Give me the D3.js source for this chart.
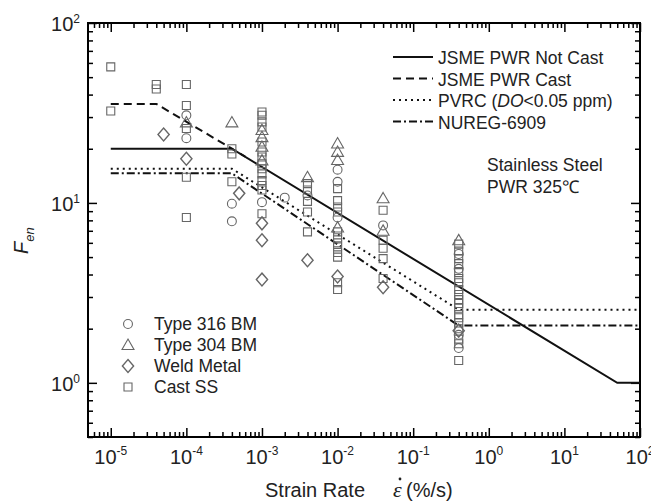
<!DOCTYPE html>
<html>
<head>
<meta charset="utf-8">
<script src="https://cdn.jsdelivr.net/npm/d3@7"></script>
<style>
  body { margin: 0; background: #fff; }
  svg { display: block; font-family: "Liberation Sans", Arial, sans-serif; }
</style>
</head>
<body>
<svg id="chart" width="651" height="502"></svg>
<script>
// Data: [strain rate (%/s), Fen]
var type316 = [[1e-4,30.7],[1e-4,22.9],[4e-4,9.9],[4e-4,7.9],[1e-3,10.1],[2e-3,10.7],
  [4e-3,11.0],[1e-2,15.3],[1e-2,13.1],[1e-2,8.3],[4e-2,7.5],[0.4,5.2],[0.4,4.3],
  [0.4,1.85],[0.4,1.56]];
var type304 = [[1e-4,28],[4e-4,28],[1e-3,25.4],[1e-3,23.2],[1e-3,20.5],[1e-3,17.2],
  [4e-3,13.9],[1e-2,21.4],[1e-2,19.2],[1e-2,17.3],[1e-2,7.3],[4e-2,10.6],[4e-2,7.0],
  [0.4,6.2]];
var weldMetal = [[5e-5,24],[1e-4,17.6],[5e-4,11.3],[1e-3,7.7],[1e-3,6.2],[1e-3,3.75],
  [4e-3,4.8],[1e-2,3.9],[4e-2,3.4],[0.4,1.95]];
var castSS = [[1e-5,57],[1e-5,32.4],[4e-5,45.5],[4e-5,43],[1e-4,45.5],[1e-4,34.8],
  [1e-4,25.9],[1e-4,13.9],[1e-4,8.3],[4e-4,20],[4e-4,18.7],[4e-4,13.1],
  [1e-3,32],[1e-3,30.7],[1e-3,28.2],[1e-3,26.4],[1e-3,21.8],[1e-3,19.2],[1e-3,18],
  [1e-3,16.5],[1e-3,15.5],[1e-3,14.5],[1e-3,13.3],[1e-3,12.5],[1e-3,11.8],[1e-3,8.7],
  [4e-3,12.8],[4e-3,11.8],[4e-3,10.2],[4e-3,8.9],[4e-3,6.9],
  [1e-2,12],[1e-2,10.3],[1e-2,9.5],[1e-2,8.9],[1e-2,6.9],[1e-2,6.4],[1e-2,6],
  [1e-2,5.7],[1e-2,5.3],[1e-2,5],[1e-2,3.6],[1e-2,3.3],
  [4e-2,9.1],[4e-2,6.2],[4e-2,5.6],[4e-2,4.9],[4e-2,3.8],
  [0.4,5.9],[0.4,5.4],[0.4,4.9],[0.4,4.6],[0.4,4.1],[0.4,3.8],[0.4,3.6],[0.4,3.3],
  [0.4,3.1],[0.4,2.9],[0.4,2.76],[0.4,2.6],[0.4,2.4],[0.4,2.3],[0.4,2.15],[0.4,2.0],
  [0.4,1.75],[0.4,1.65],[0.4,1.33]];

// Model curves (break points)
var jsmeNotCast = [[1e-5,20],[4e-4,20],[50,1],[100,1]];
var jsmeCast = [[1e-5,35.5],[4e-5,35.5],[6e-4,18.1]];
var pvrc = [[1e-5,15.5],[4e-4,15.5],[0.4,2.55],[100,2.55]];
var nureg = [[1e-5,14.6],[4e-4,14.6],[0.4,2.08],[100,2.08]];

var xDecades = [-5,-4,-3,-2,-1,0,1,2];
var yDecades = [0,1,2];

var lineNames = ["JSME PWR Not Cast","JSME PWR Cast","PVRC","NUREG-6909"];
var markerNames = ["Type 316 BM","Type 304 BM","Weld Metal","Cast SS"];

var svg = d3.select("#chart");
var plotL = 88, plotR = 640, plotT = 23, plotB = 437;

var x = d3.scaleLog().domain([5e-6,100]).range([plotL,plotR]);
var y = d3.scaleLog().domain([0.5,100]).range([plotB,plotT]);

// minor ticks
var xMinor = [], yMinor = [];
for (var e = -6; e <= 1; e++) for (var m = 2; m <= 9; m++) {
  var v = m*Math.pow(10,e);
  if (v >= 5e-6 && v <= 100) xMinor.push(v);
}
for (var e = -1; e <= 1; e++) for (var m = 2; m <= 9; m++) {
  var v = m*Math.pow(10,e);
  if (v >= 0.5 && v <= 100) yMinor.push(v);
}
var xMajor = xDecades.map(function(d){return Math.pow(10,d);});
var yMajor = yDecades.map(function(d){return Math.pow(10,d);});

function addAxis(gen, scale, vals, size, tx, ty) {
  var g = svg.append("g").attr("transform","translate("+tx+","+ty+")")
    .call(gen(scale).tickValues(vals).tickSize(-size).tickSizeOuter(0).tickFormat(""));
  g.select(".domain").remove();
  g.selectAll("line").attr("stroke","#000").attr("stroke-width",1.5);
}
[[xMajor,9],[xMinor,5]].forEach(function(t){
  addAxis(d3.axisBottom, x, t[0], t[1], 0, plotB);
  addAxis(d3.axisTop, x, t[0], t[1], 0, plotT);
});
[[yMajor,9],[yMinor,5]].forEach(function(t){
  addAxis(d3.axisLeft, y, t[0], t[1], plotL, 0);
  addAxis(d3.axisRight, y, t[0], t[1], plotR, 0);
});

svg.append("rect").attr("x",plotL).attr("y",plotT)
  .attr("width",plotR-plotL).attr("height",plotB-plotT)
  .attr("fill","none").attr("stroke","#000").attr("stroke-width",2);

// tick labels
xDecades.forEach(function(d){
  var t = svg.append("text").attr("x",x(Math.pow(10,d))).attr("y",464)
    .attr("text-anchor","middle").attr("font-size",20).attr("fill","#222");
  t.append("tspan").text("10");
  t.append("tspan").attr("dy",-9).attr("font-size",12).text(d);
});
yDecades.forEach(function(d){
  var t = svg.append("text").attr("x",80).attr("y",y(Math.pow(10,d))+8)
    .attr("text-anchor","end").attr("font-size",20).attr("fill","#222");
  t.append("tspan").text("10");
  t.append("tspan").attr("dy",-8).attr("font-size",12).text(d);
});

// axis titles
var yt = svg.append("text").attr("transform","translate(28,254) rotate(-90)")
  .attr("font-size",20).attr("font-style","italic").attr("fill","#222");
yt.append("tspan").text("F");
yt.append("tspan").attr("dy",6).attr("font-size",13).text("en");

svg.append("text").attr("x",265).attr("y",497).attr("font-size",20).attr("fill","#222")
  .text("Strain Rate");
var ex = 393;
svg.append("text").attr("x",ex).attr("y",497).attr("font-size",22)
  .attr("font-family","Liberation Serif, serif").attr("font-style","italic")
  .attr("fill","#222").text("\u03B5");
svg.append("circle").attr("cx",ex+7).attr("cy",479).attr("r",1.4).attr("fill","#222");
svg.append("text").attr("x",ex+13).attr("y",497).attr("font-size",20).attr("fill","#222")
  .text("(%/s)");

// curves
var line = d3.line().x(function(d){return x(d[0]);}).y(function(d){return y(d[1]);});
var styles = [
  {data: jsmeNotCast, dash: null},
  {data: jsmeCast, dash: "8,5"},
  {data: pvrc, dash: "2,4"},
  {data: nureg, dash: "8,3,2,3"}
];
styles.forEach(function(s){
  svg.append("path").attr("d",line(s.data)).attr("fill","none")
    .attr("stroke","#111").attr("stroke-width",2)
    .attr("stroke-dasharray",s.dash);
});

// markers
var symTypes = [d3.symbolCircle, d3.symbolTriangle, d3.symbolDiamond, d3.symbolSquare];
var symSizes = [62, 62, 48, 64];
var series = [type316, type304, weldMetal, castSS];
function drawMarker(g, i, cx, cy) {
  var p = g.append("path")
    .attr("d", d3.symbol().type(symTypes[i]).size(symSizes[i])())
    .attr("fill","none").attr("stroke","#666").attr("stroke-width",1.1);
  if (i == 2) p.attr("transform","translate("+cx+","+cy+") scale(1.5,1)");
  else if (i == 1) p.attr("transform","translate("+cx+","+(cy+1)+")");
  else p.attr("transform","translate("+cx+","+cy+")");
}
var mg = svg.append("g");
[3,0,1,2].forEach(function(i){
  series[i].forEach(function(d){ drawMarker(mg, i, x(d[0]), y(d[1])); });
});

// legend: markers
markerNames.forEach(function(n,i){
  var ry = 324 + i*21;
  drawMarker(svg, i, 128, ry);
  svg.append("text").attr("x",154).attr("y",ry+6).attr("font-size",17.5)
    .attr("fill","#222").text(n);
});

// legend: lines
lineNames.forEach(function(n,i){
  var ry = 57 + i*21.5;
  svg.append("line").attr("x1",393).attr("x2",433).attr("y1",ry).attr("y2",ry)
    .attr("stroke","#111").attr("stroke-width",2).attr("stroke-dasharray",styles[i].dash);
  var t = svg.append("text").attr("x",438).attr("y",ry+7).attr("font-size",17.5).attr("fill","#222");
  if (n == "PVRC") {
    t.append("tspan").text("PVRC (");
    t.append("tspan").attr("font-style","italic").text("DO");
    t.append("tspan").text("<0.05 ppm)");
  } else t.text(n);
});

svg.append("text").attr("x",487).attr("y",171).attr("font-size",17.5).attr("fill","#222")
  .text("Stainless Steel");
svg.append("text").attr("x",487).attr("y",193).attr("font-size",17.5).attr("fill","#222")
  .text("PWR 325\u2103");
</script>
</body>
</html>
